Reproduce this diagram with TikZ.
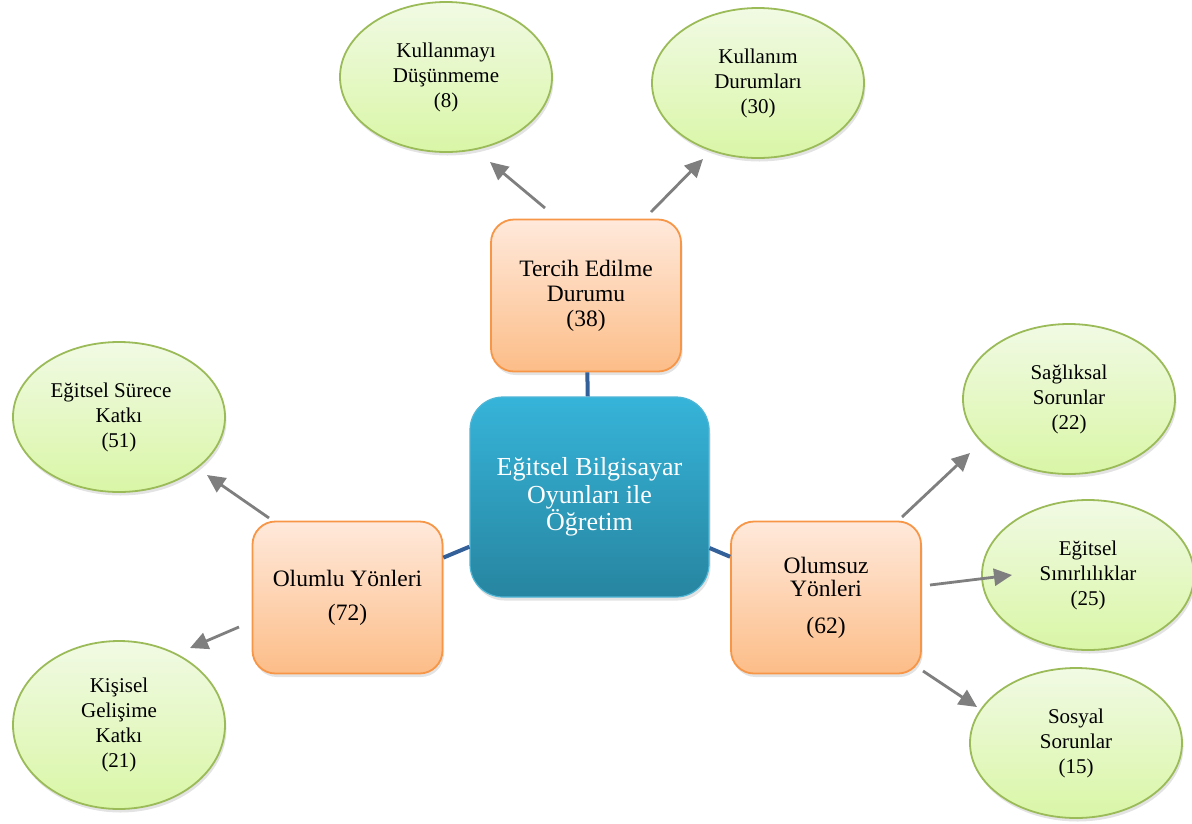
\documentclass[tikz,border=0pt]{standalone}
\usepackage{fontspec}
\setmainfont{Liberation Serif}
\newfontfamily\tnr{Liberation Serif}
\usetikzlibrary{shapes.geometric,arrows.meta,shadows}
\definecolor{gborder}{HTML}{9BBB59}
\definecolor{gtop}{HTML}{F1FAE4}
\definecolor{gbot}{HTML}{D9F6A6}
\definecolor{oborder}{HTML}{F79646}
\definecolor{otop}{HTML}{FFE9DB}
\definecolor{obot}{HTML}{FCBD88}
\definecolor{btop}{HTML}{36B4D9}
\definecolor{bbot}{HTML}{2785A0}
\definecolor{bborder}{HTML}{4FB6D6}
\definecolor{conn}{HTML}{34609A}
\definecolor{arrgray}{HTML}{7F7F7F}
\begin{document}
\begin{tikzpicture}[x=1pt,y=-1pt,
  shad/.style={drop shadow={opacity=0.22,shadow xshift=1.5pt,shadow yshift=-3.5pt}},
  ell/.style={ellipse,draw=gborder,line width=1.8pt,top color=gtop,bottom color=gbot,
    inner sep=0pt,minimum width=212pt,minimum height=150pt,align=center,
    font=\tnr\fontsize{21}{25}\selectfont,shad},
  obox/.style={rectangle,rounded corners=23pt,draw=oborder,line width=1.8pt,
    top color=otop,bottom color=obot,inner sep=0pt,minimum width=190pt,
    minimum height=152pt,align=center,font=\tnr\fontsize{23.5}{25}\selectfont,shad},
  cbox/.style={rectangle,rounded corners=33pt,draw=bborder,line width=1.2pt,
    top color=btop,bottom color=bbot,inner sep=0pt,minimum width=239pt,
    minimum height=200pt,align=center,text=white,
    font=\tnr\fontsize{26}{27.5}\selectfont,shad},
  link/.style={draw=conn,line width=4pt},
  arr/.style={draw=arrgray,line width=2.8pt,-{Triangle[length=18pt,width=17pt]}}]
\useasboundingbox (0,0) rectangle (1192,823);

% main nodes
\node[cbox] (center) at (589.5,497) {Eğitsel Bilgisayar\\Oyunları ile\\Öğretim};
\node[obox] (tercih) at (586,295.5) {Tercih Edilme\\Durumu\\(38)};
\node[obox] (olumlu) at (347.5,597.5) {Olumlu Yönleri\\[9pt](72)};
\node[obox] (olumsuz) at (826,597.5) {Olumsuz\\[-2pt]Yönleri\\[12pt](62)};

% ellipses
\node[ell] (e1) at (446,77) {Kullanmayı\\Düşünmeme\\(8)};
\node[ell] (e2) at (758,83) {Kullanım\\Durumları\\(30)};
\node[ell] (e3) at (119,417) {Eğitsel Sürece\hspace*{16pt}\\Katkı\\(51)};
\node[ell,minimum height=168pt] (e4) at (119,725) {Kişisel\\Gelişime\\Katkı\\(21)};
\node[ell] (e5) at (1069,399) {Sağlıksal\\Sorunlar\\(22)};
\node[ell] (e6) at (1088,575) {Eğitsel\\Sınırlılıklar\\(25)};
\node[ell] (e7) at (1076,743) {Sosyal\\Sorunlar\\(15)};

% connectors from the centre
\draw[link] (tercih) -- (center);
\draw[link] (olumlu) -- (center);
\draw[link] (olumsuz) -- (center);

% arrow end points
\coordinate (a1s) at (545,208); \coordinate (a1e) at (490,162);
\coordinate (a2s) at (651,212); \coordinate (a2e) at (703,159);
\coordinate (a3s) at (269,518); \coordinate (a3e) at (207,475);
\coordinate (a4s) at (239,627); \coordinate (a4e) at (190,648);
\coordinate (a5s) at (902,517); \coordinate (a5e) at (970,453);
\coordinate (a6s) at (930,585); \coordinate (a6e) at (1012,575);
\coordinate (a7s) at (923,671); \coordinate (a7e) at (977,707);

\draw[arr] (a1s) -- (a1e);
\draw[arr] (a2s) -- (a2e);
\draw[arr] (a3s) -- (a3e);
\draw[arr] (a4s) -- (a4e);
\draw[arr] (a5s) -- (a5e);
\draw[arr] (a6s) -- (a6e);
\draw[arr] (a7s) -- (a7e);
\end{tikzpicture}
\end{document}
